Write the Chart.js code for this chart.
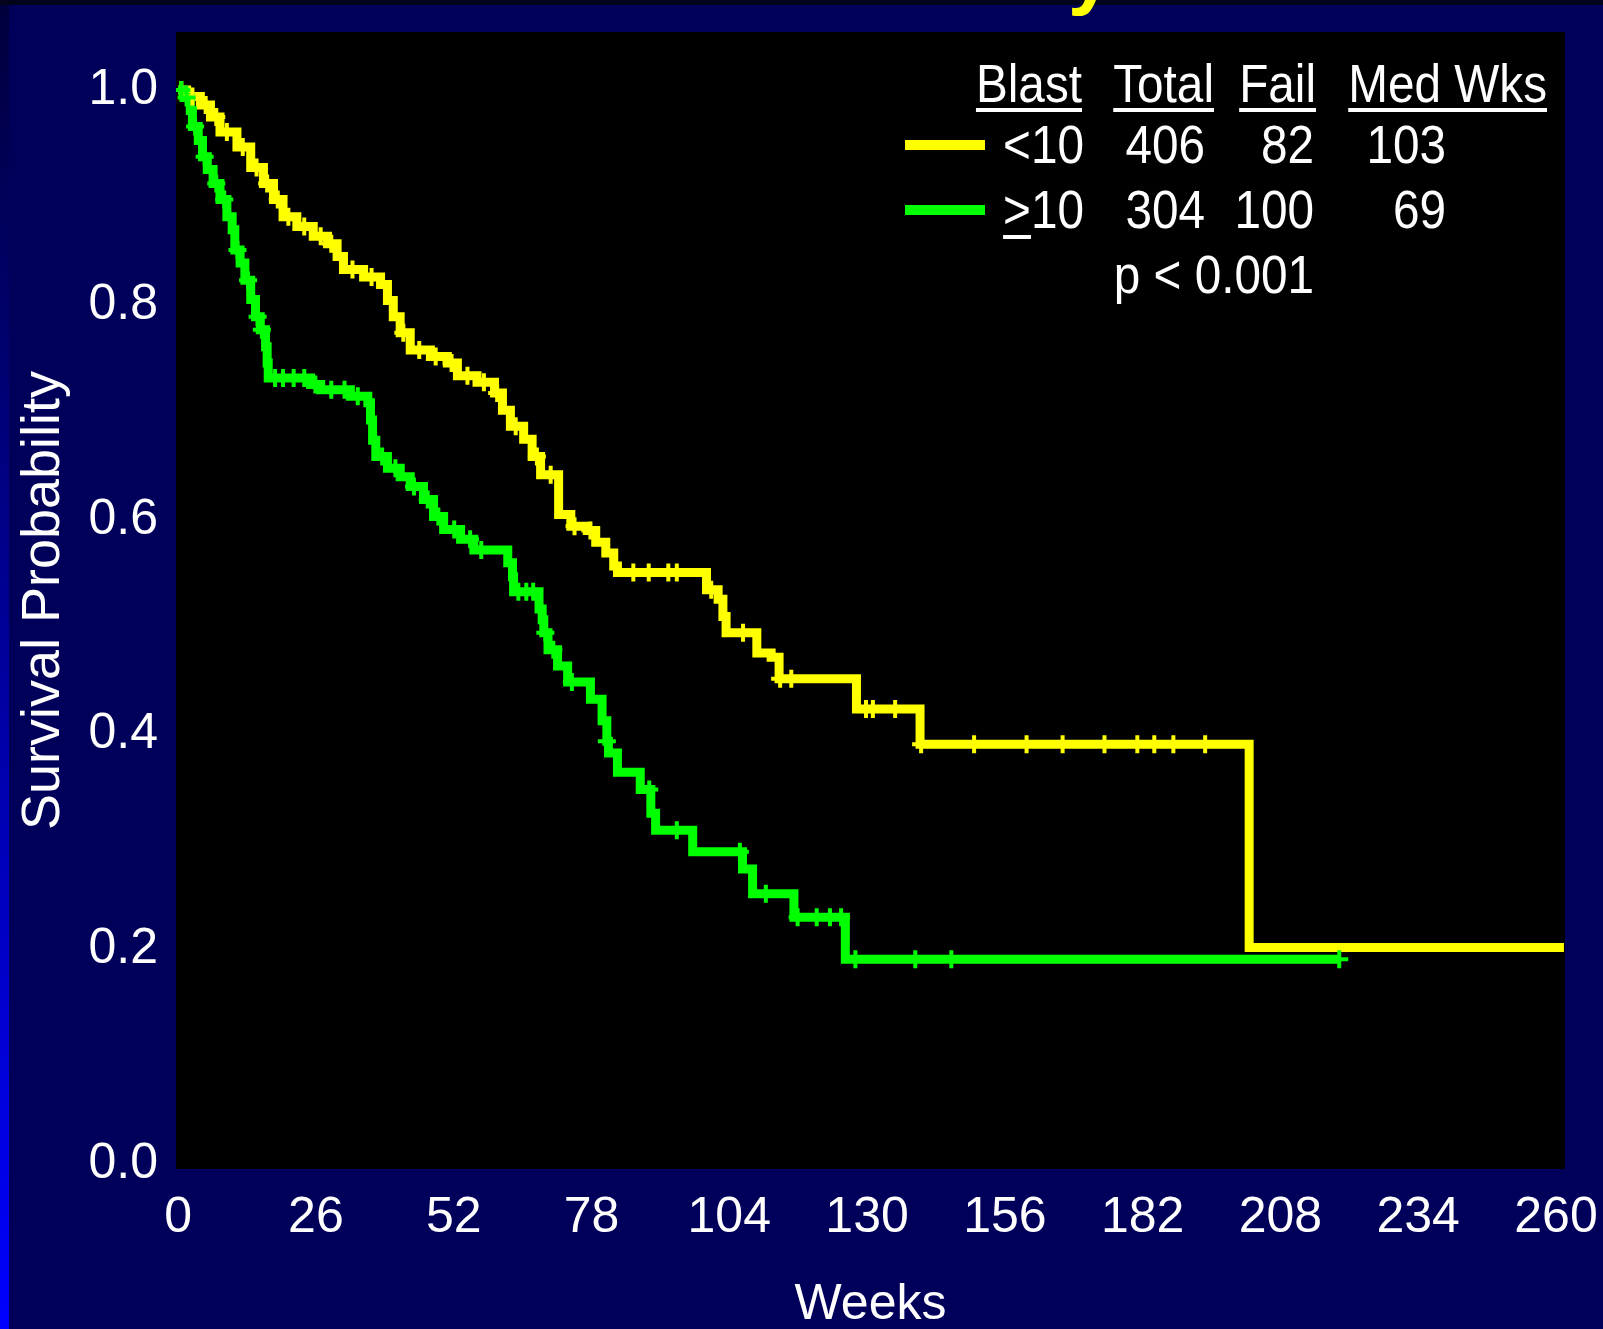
<!DOCTYPE html>
<html>
<head>
<meta charset="utf-8">
<script src="https://cdn.jsdelivr.net/npm/chart.js@4/dist/chart.umd.min.js"></script>
<style>
  html, body { margin: 0; padding: 0; background: #00005a; }
  #wrap { width: 1603px; height: 1329px; }
</style>
</head>
<body>
<div id="wrap"><canvas id="km" width="1603" height="1329"></canvas></div>
<script>
const weekTicks = [0, 26, 52, 78, 104, 130, 156, 182, 208, 234, 260];
const probTicks = [0, 0.2, 0.4, 0.6, 0.8, 1.0];

// Blast < 10: event times (weeks) and survival right after each step
const lowWeeks = [0, 1.6, 4.2, 6.1, 7.9, 11.1, 13.7, 16.1, 18.0, 19.8, 22.4, 25.5, 28.2, 30.0, 31.2,
  35.0, 38.2, 39.5, 40.6, 41.9, 43.8, 47.6, 50.8, 52.7, 56.4, 59.7, 61.2, 62.7, 65.2, 66.8,
  68.4, 71.8, 74.1, 77.2, 78.8, 80.7, 82.2, 82.9, 99.7, 101.9, 102.8, 103.4, 109.2, 111.9, 113.4,
  128.0, 140.0, 202.1, 261.5];
const lowSurv = [1.0, 0.994, 0.986, 0.975, 0.961, 0.947, 0.928, 0.913, 0.898, 0.882, 0.873, 0.864, 0.857, 0.845, 0.833,
  0.826, 0.819, 0.804, 0.789, 0.774, 0.758, 0.752, 0.746, 0.734, 0.728, 0.718, 0.702, 0.687, 0.675, 0.659,
  0.642, 0.605, 0.594, 0.590, 0.579, 0.569, 0.557, 0.551, 0.535, 0.526, 0.510, 0.495, 0.476, 0.472, 0.452,
  0.424, 0.391, 0.202, 0.202];
const lowCensored = [0.6, 2.7, 5.2, 7.2, 9.2, 12.2, 14.8, 16.8, 18.8, 20.8, 23.8, 26.9, 28.9, 32.9, 36.5,
  42.5, 45.5, 48.6, 51.6, 54.6, 57.7, 60.2, 63.7, 67.7, 70.3, 74.8, 77.8, 85.9, 88.8, 92.5, 94.1,
  100.6, 106.6, 113.6, 115.7, 129.8, 131.1, 135.3, 140.2, 150.2, 160.1, 166.9, 174.8, 181.0, 184.2, 187.8, 193.8];

// Blast >= 10
const highWeeks = [0, 1.1, 2.3, 2.7, 3.8, 4.6, 5.5, 6.6, 7.9, 9.2, 10.2, 10.7, 11.7, 12.6, 13.7,
  14.6, 15.5, 16.5, 16.8, 17.0, 25.0, 26.9, 32.5, 35.8, 36.3, 36.7, 37.3, 39.5, 41.9, 43.8,
  46.3, 48.2, 50.1, 53.3, 55.8, 62.2, 63.1, 63.3, 68.1, 68.7, 69.0, 69.8, 71.6, 73.5, 77.8,
  80.0, 80.9, 81.2, 82.9, 87.2, 89.2, 90.1, 97.1, 106.5, 108.4, 116.2, 125.9, 219.3];
const highSurv = [1.0, 0.993, 0.981, 0.966, 0.953, 0.938, 0.926, 0.913, 0.898, 0.882, 0.870, 0.851, 0.839, 0.823, 0.805,
  0.789, 0.777, 0.761, 0.746, 0.732, 0.726, 0.721, 0.715, 0.709, 0.693, 0.674, 0.659, 0.648, 0.640, 0.631,
  0.619, 0.603, 0.591, 0.582, 0.572, 0.560, 0.547, 0.533, 0.517, 0.507, 0.495, 0.479, 0.464, 0.449, 0.433,
  0.413, 0.394, 0.383, 0.365, 0.349, 0.327, 0.311, 0.291, 0.275, 0.252, 0.230, 0.191, 0.191];
const highCensored = [0.6, 1.6, 3.2, 5.0, 7.2, 8.7, 11.2, 13.2, 15.0, 15.8, 18.3, 19.8, 21.8, 23.8, 25.9,
  28.9, 31.4, 33.9, 38.5, 41.0, 44.5, 47.1, 49.1, 52.1, 55.1, 57.2, 64.2, 65.7, 67.0, 69.3, 70.8,
  74.3, 80.9, 88.9, 94.1, 106.0, 110.9, 116.9, 120.5, 123.0, 125.1, 127.8, 139.1, 145.9, 219.1];

const tableHead = ['Blast', 'Total', 'Fail', 'Med Wks'];
const groupLabels = ['<10', '>10'];
const groupTotal = [406, 304];
const groupFail = [82, 100];
const groupMedian = [103, 69];
const pValueText = 'p < 0.001';

const YELLOW = '#ffff00';
const GREEN = '#00ff00';
const FONT = '"Liberation Sans", Arial, sans-serif';

function kmPoints(weeks, surv) {
  return weeks.map((w, i) => ({ x: w, y: surv[i] }));
}

function survivalAt(weeks, surv, t) {
  let s = surv[0];
  for (let i = 0; i < weeks.length; i++) {
    if (weeks[i] <= t) s = surv[i];
  }
  return s;
}

function censorPoints(times, weeks, surv) {
  return times.map((t) => ({ x: t, y: survivalAt(weeks, surv, t) }));
}

// slide background, black plot panel and the cut-off title
const backdrop = {
  id: 'backdrop',
  beforeDraw(chart) {
    const { ctx, width, height, chartArea } = chart;
    ctx.save();
    ctx.fillStyle = '#00005a';
    ctx.fillRect(0, 0, width, height);
    const edge = ctx.createLinearGradient(0, 0, 0, height);
    edge.addColorStop(0, '#00003c');
    edge.addColorStop(1, '#0000ff');
    ctx.fillStyle = edge;
    ctx.fillRect(0, 0, 9, height);
    ctx.fillStyle = '#03031c';
    ctx.fillRect(0, 0, width, 5);
    ctx.fillStyle = '#000000';
    ctx.fillRect(chartArea.left, chartArea.top, chartArea.width, chartArea.height);
    ctx.fillStyle = YELLOW;
    ctx.font = 'bold 80px ' + FONT;
    ctx.textAlign = 'left';
    ctx.textBaseline = 'alphabetic';
    ctx.fillText('y', 1068, -1);
    ctx.restore();
  }
};

// the Blast / Total / Fail / Med Wks table in the top right
const statsTable = {
  id: 'statsTable',
  afterDraw(chart) {
    const { ctx } = chart;
    const squeeze = 0.9;
    const headRight = [1082, 1214, 1316, 1547];
    const cellRight = [1084, 1205, 1314, 1446];
    const rowBase = [163, 228];
    const swatchY = [145, 210];

    ctx.save();
    ctx.fillStyle = '#ffffff';
    ctx.font = '53px ' + FONT;
    ctx.textAlign = 'right';
    ctx.textBaseline = 'alphabetic';

    const put = (text, right, base) => {
      ctx.save();
      ctx.translate(right, base);
      ctx.scale(squeeze, 1);
      ctx.fillText(text, 0, 0);
      ctx.restore();
      return ctx.measureText(text).width * squeeze;
    };

    tableHead.forEach((h, i) => {
      const w = put(h, headRight[i], 102);
      ctx.fillRect(headRight[i] - w, 108, w, 4);
    });

    [YELLOW, GREEN].forEach((c, r) => {
      ctx.save();
      ctx.strokeStyle = c;
      ctx.lineWidth = 10;
      ctx.beginPath();
      ctx.moveTo(905, swatchY[r]);
      ctx.lineTo(985, swatchY[r]);
      ctx.stroke();
      ctx.restore();

      const row = [groupLabels[r], String(groupTotal[r]), String(groupFail[r]), String(groupMedian[r])];
      row.forEach((t, i) => put(t, cellRight[i], rowBase[r]));
    });

    // the ">" of ">10" is underlined (greater or equal)
    const lblW = ctx.measureText(groupLabels[1]).width * squeeze;
    const gtW = ctx.measureText('>').width * squeeze;
    ctx.fillRect(cellRight[0] - lblW, 235, gtW, 4);

    put(pValueText, 1314, 293);
    ctx.restore();
  }
};

new Chart(document.getElementById('km'), {
  type: 'line',
  data: {
    datasets: [
      {
        label: 'Blast < 10',
        data: kmPoints(lowWeeks, lowSurv),
        borderColor: YELLOW,
        borderWidth: 9,
        stepped: true,
        pointRadius: 0,
        fill: false,
        order: 3
      },
      {
        label: 'Blast >= 10',
        data: kmPoints(highWeeks, highSurv),
        borderColor: GREEN,
        borderWidth: 9,
        stepped: true,
        pointRadius: 0,
        fill: false,
        order: 2
      },
      {
        label: 'censored < 10',
        data: censorPoints(lowCensored, lowWeeks, lowSurv),
        showLine: false,
        pointStyle: 'cross',
        pointRadius: 9,
        pointBorderWidth: 4,
        pointBorderColor: YELLOW,
        order: 1
      },
      {
        label: 'censored >= 10',
        data: censorPoints(highCensored, highWeeks, highSurv),
        showLine: false,
        pointStyle: 'cross',
        pointRadius: 9,
        pointBorderWidth: 4,
        pointBorderColor: GREEN,
        order: 0
      }
    ]
  },
  options: {
    responsive: false,
    animation: false,
    devicePixelRatio: 1,
    layout: { padding: { top: 32, right: 38, left: 0, bottom: 0 } },
    plugins: {
      legend: { display: false },
      tooltip: { enabled: false }
    },
    scales: {
      x: {
        type: 'linear',
        min: -0.4,
        max: 261.7,
        grid: { display: false, drawTicks: false },
        border: { display: false },
        afterBuildTicks: (s) => { s.ticks = weekTicks.map((v) => ({ value: v })); },
        afterFit: (s) => { s.height = 160; s.paddingLeft = 0; s.paddingRight = 0; },
        ticks: {
          color: '#ffffff',
          font: { family: FONT, size: 50, lineHeight: 1 },
          padding: 24,
          autoSkip: false,
          maxRotation: 0,
          callback: (v) => String(v)
        },
        title: {
          display: true,
          text: 'Weeks',
          color: '#ffffff',
          font: { family: FONT, size: 50, lineHeight: 0.9 },
          padding: { top: 0, bottom: 1 }
        }
      },
      y: {
        min: -0.0042,
        max: 1.054,
        grid: { display: false, drawTicks: false },
        border: { display: false },
        afterBuildTicks: (s) => { s.ticks = probTicks.map((v) => ({ value: v })); },
        afterFit: (s) => { s.width = 176; s.paddingTop = 0; s.paddingBottom = 0; },
        ticks: {
          color: '#ffffff',
          font: { family: FONT, size: 50, lineHeight: 1 },
          padding: 18,
          callback: (v) => Number(v).toFixed(1)
        },
        title: {
          display: true,
          text: 'Survival Probability',
          color: '#ffffff',
          font: { family: FONT, size: 54, lineHeight: 1 },
          padding: { top: 17, bottom: 0 }
        }
      }
    }
  },
  plugins: [backdrop, statsTable]
});
</script>
</body>
</html>
